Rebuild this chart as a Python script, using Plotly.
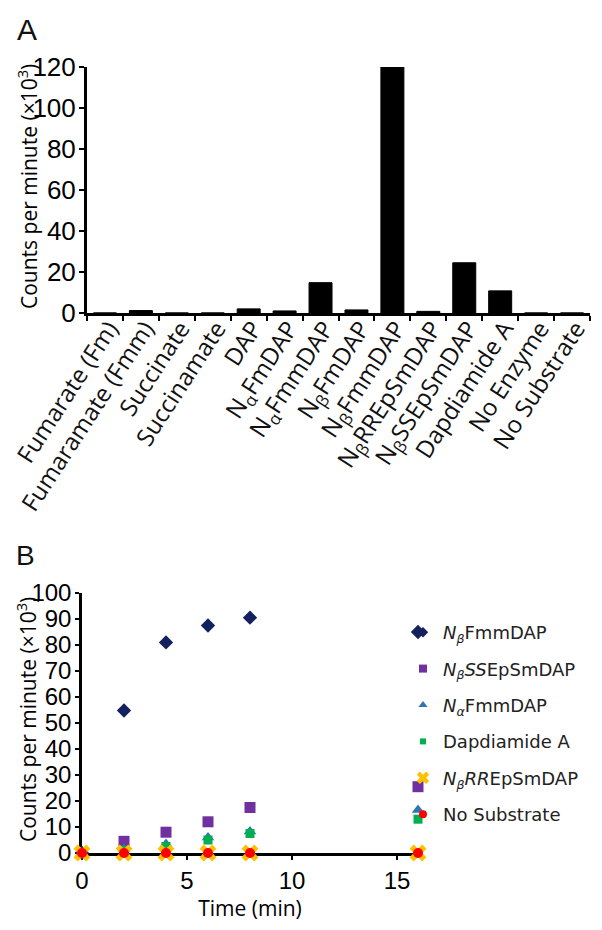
import plotly.graph_objects as go

# ---------------- Panel A data ----------------
categories = ["Fumarate (Fm)", "Fumaramate (Fmm)", "Succinate", "Succinamate", "DAP",
              "N<sub>α</sub>FmDAP", "N<sub>α</sub>FmmDAP", "N<sub>β</sub>FmDAP",
              "N<sub>β</sub>FmmDAP", "N<sub>β</sub>RREpSmDAP", "N<sub>β</sub>SSEpSmDAP",
              "Dapdiamide A", "No Enzyme", "No Substrate"]
cpm_a = [0.0, 1.2, 0.0, 0.0, 2.0, 1.0, 14.8, 1.5, 120.0, 0.8, 24.5, 10.8, 0.0, 0.0]
yticks_a = [0, 20, 40, 60, 80, 100, 120]
ytitle = "Counts per minute (×10<sup>3</sup>)"

# ---------------- Panel B data ----------------
time_min = [0, 2, 4, 6, 8, 16]
nb_fmmdap = [0, 54.8, 81.0, 87.5, 90.5, 85.0]
nb_ssepsmdap = [0, 4.5, 8.0, 12.0, 17.5, 25.5]
na_fmmdap = [0, 1.5, 3.5, 6.0, 8.3, 16.5]
dapdiamide_a = [0, 1.0, 2.5, 5.0, 7.5, 13.0]
nb_rrepsmdap = [0, 0, 0, 0, 0, 0]
no_substrate = [0, 0, 0, 0, 0, 0]
xticks_b = [0, 5, 10, 15]

# name, values, symbol, colour, plot size, legend size
series_b = [
    ("<i>N</i><sub><i>β</i></sub>FmmDAP", nb_fmmdap, "diamond", "#13225e", 11, 8),
    ("<i>N</i><sub><i>β</i></sub><i>SS</i>EpSmDAP", nb_ssepsmdap, "square", "#7030a0", 11, 8),
    ("<i>N</i><sub><i>α</i></sub>FmmDAP", na_fmmdap, "triangle-up", "#2e75b6", 11, 8),
    ("Dapdiamide A", dapdiamide_a, "square", "#00b050", 9, 6),
    ("<i>N</i><sub><i>β</i></sub><i>RR</i>EpSmDAP", nb_rrepsmdap, "x", "#ffc000", 15, 11),
    ("No Substrate", no_substrate, "circle", "#ff0000", 10, 8),
]

# page body has an 8 px margin: figure occupies [8, 602] x [8, 930]
OFF = 8
W, H = 602 - OFF, 930 - OFF
def px_x(v):
    return (v - OFF) / W
def px_y(v):
    return (930 - v) / H

fig = go.Figure()

fig.add_trace(go.Bar(
    x=categories, y=cpm_a, marker=dict(color="black", line=dict(color="black", width=1)),
    xaxis="x", yaxis="y", showlegend=False,
))

for name, vals, sym, col, size, lsize in series_b:
    fig.add_trace(go.Scatter(
        x=time_min, y=vals, mode="markers", name=name, legendgroup=name, showlegend=False,
        marker=dict(symbol=sym, color=col, size=size, line=dict(width=0)),
        xaxis="x2", yaxis="y2", cliponaxis=False,
    ))
    # legend-only entry with the smaller legend symbol
    fig.add_trace(go.Scatter(
        x=[None], y=[None], mode="markers", name=name, legendgroup=name, showlegend=True,
        marker=dict(symbol=sym, color=col, size=lsize, line=dict(width=0)),
        xaxis="x2", yaxis="y2",
    ))

title_font = dict(family="Open Sans, sans-serif", size=21, color="black")
num_a = dict(family="Liberation Sans, Arial, sans-serif", size=26, color="black")
num_b = dict(family="Liberation Sans, Arial, sans-serif", size=24, color="black")

fig.update_layout(
    template="none",
    width=W, height=H,
    margin=dict(l=0, r=0, t=0, b=0, autoexpand=False),
    paper_bgcolor="white", plot_bgcolor="white",
    bargap=0.36,
    xaxis=dict(
        domain=[px_x(87), px_x(590)], anchor="y", type="category", automargin=False,
        showline=True, linecolor="black", linewidth=3,
        ticks="outside", tickson="boundaries", ticklen=5, tickwidth=2, tickcolor="black",
        tickangle=-57, ticklabelstandoff=-11, ticklabelshift=4,
        tickfont=dict(family="Open Sans, sans-serif", size=24, color="#111"),
        showgrid=False, zeroline=False,
    ),
    yaxis=dict(
        domain=[px_y(313), px_y(67)], anchor="x", range=[0, 120], automargin=False,
        tickvals=yticks_a, ticklabelstandoff=-2,
        showline=True, linecolor="black", linewidth=3,
        ticks="outside", ticklen=5, tickwidth=2, tickcolor="black",
        tickfont=num_a, showgrid=False, zeroline=False,
    ),
    xaxis2=dict(
        domain=[px_x(82), px_x(418)], anchor="y2", range=[0, 16], automargin=False,
        tickvals=xticks_b,
        showline=True, linecolor="black", linewidth=2.5,
        ticks="outside", ticklen=4, tickwidth=2, tickcolor="black",
        tickfont=num_b, showgrid=False, zeroline=False, layer="below traces",
        title=dict(text="Time (min)", font=title_font, standoff=3),
    ),
    yaxis2=dict(
        domain=[px_y(853), px_y(593)], anchor="x2", range=[0, 100], automargin=False,
        dtick=10, ticklabelstandoff=-1,
        showline=True, linecolor="black", linewidth=2.5,
        ticks="outside", ticklen=4, tickwidth=2, tickcolor="black",
        tickfont=num_b, showgrid=False, zeroline=False, layer="below traces",
    ),
    legend=dict(
        x=px_x(403), y=px_y(614), xanchor="left", yanchor="top",
        traceorder="grouped", tracegroupgap=10,
        font=dict(family="DejaVu Sans, sans-serif", size=18, color="#222"),
        bgcolor="rgba(0,0,0,0)",
    ),
    annotations=[
        dict(text="A", x=px_x(27), y=px_y(29), xref="paper", yref="paper",
             xanchor="center", yanchor="middle",
             showarrow=False, font=dict(family="Liberation Sans, Arial, sans-serif", size=30, color="#111")),
        dict(text="B", x=px_x(25), y=px_y(555), xref="paper", yref="paper",
             xanchor="center", yanchor="middle",
             showarrow=False, font=dict(family="Liberation Sans, Arial, sans-serif", size=28, color="#111")),
        dict(text=ytitle, textangle=-90, x=px_x(27), y=px_y(187), xref="paper", yref="paper",
             xanchor="center", yanchor="middle", showarrow=False, font=title_font),
        dict(text=ytitle, textangle=-90, x=px_x(26), y=px_y(720), xref="paper", yref="paper",
             xanchor="center", yanchor="middle", showarrow=False, font=title_font),
    ],
)

fig.write_html("out.html")
